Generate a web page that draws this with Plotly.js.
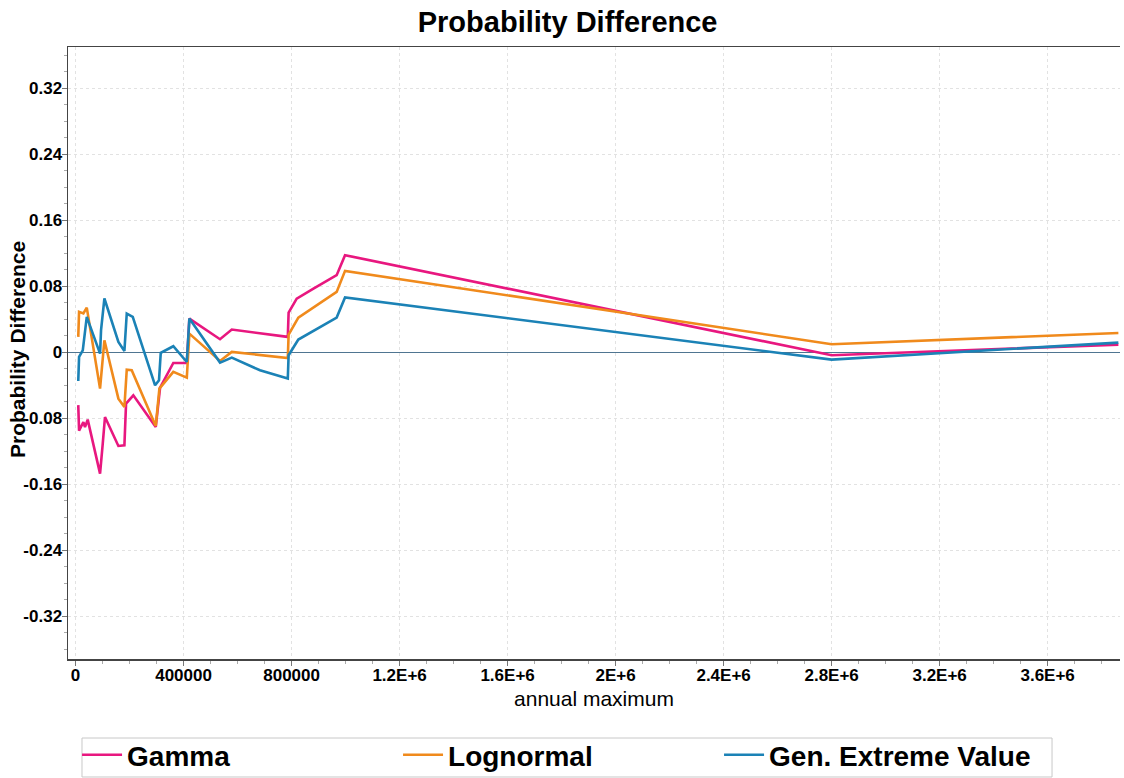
<!DOCTYPE html>
<html>
<head>
<meta charset="utf-8">
<script src="https://cdn.plot.ly/plotly-3.0.1.min.js"></script>
<style>
html,body{margin:0;padding:0;background:#fff;}
#chart{width:1124px;height:778px;}
</style>
</head>
<body>
<div id="chart"></div>
<script>
// ---- data ----
const seriesNames = ["Gamma", "Lognormal", "Gen. Extreme Value"];
const seriesColors = ["#e8177f", "#f08a1c", "#1b82b6"];

const gammaX = [10000, 13000, 29000, 35000, 45000, 90700, 100700, 109000, 158600, 180900, 187000, 214000, 297000, 313000, 362000, 412000, 421500, 535000, 578500, 786000, 789000, 819000, 881000, 967000, 998000, 2800000, 3862000];
const gammaY = [-0.064, -0.095, -0.0845, -0.0905, -0.0816, -0.147, -0.1107, -0.0784, -0.1135, -0.1127, -0.0622, -0.0521, -0.0905, -0.0428, -0.013, -0.013, 0.0408, 0.0158, 0.0275, 0.0186, 0.048, 0.065, 0.077, 0.0933, 0.1176, -0.0036, 0.0093];

const lognormalX = [10000, 13000, 29000, 41500, 90700, 106800, 158600, 180900, 189600, 208000, 297000, 310500, 362000, 412000, 421500, 535000, 578500, 786000, 789000, 825000, 967000, 998000, 2800000, 3862000];
const lognormalY = [0.0186, 0.049, 0.047, 0.0541, -0.044, 0.0145, -0.0562, -0.0663, -0.021, -0.0218, -0.0893, -0.044, -0.0238, -0.0307, 0.0226, -0.0105, 0.0004, -0.0069, 0.0214, 0.042, 0.0731, 0.0986, 0.0097, 0.0234];

const gevX = [10000, 13000, 26700, 41500, 90700, 94400, 106800, 158600, 180900, 189600, 211800, 294500, 309000, 315500, 362000, 412000, 421500, 535000, 578500, 683000, 786000, 789000, 825000, 967000, 998000, 2800000, 3862000];
const gevY = [-0.0348, -0.0057, 0.0024, 0.0428, -0.0016, 0.0267, 0.0651, 0.0125, 0.0016, 0.0469, 0.0428, -0.04, -0.034, -0.0008, 0.0073, -0.0118, 0.0408, -0.0125, -0.0065, -0.0218, -0.0319, -0.0036, 0.0154, 0.042, 0.0663, -0.0089, 0.0117];

const xTickVals = [0, 400000, 800000, 1200000, 1600000, 2000000, 2400000, 2800000, 3200000, 3600000];
const xTickText = ["0", "400000", "800000", "1.2E+6", "1.6E+6", "2E+6", "2.4E+6", "2.8E+6", "3.2E+6", "3.6E+6"];
const yTickVals = [-0.32, -0.24, -0.16, -0.08, 0, 0.08, 0.16, 0.24, 0.32];
const yTickText = ["-0.32", "-0.24", "-0.16", "-0.08", "0", "0.08", "0.16", "0.24", "0.32"];

const chartTitle = "Probability Difference";
const xTitle = "annual maximum";
const yTitle = "Probability Difference";

// ---- drawing ----
const FONT = "Liberation Sans, Arial, Helvetica, sans-serif";
const xs = [gammaX, lognormalX, gevX];
const ys = [gammaY, lognormalY, gevY];
const traces = seriesNames.map((n, i) => ({
  type: "scatter", mode: "lines", name: n,
  x: xs[i], y: ys[i],
  line: {color: seriesColors[i], width: 2.6}
}));

const layout = {
  width: 1124, height: 778,
  paper_bgcolor: "#ffffff", plot_bgcolor: "#ffffff",
  margin: {l: 68, r: 4, t: 47, b: 119, pad: 0, autoexpand: false},
  font: {family: FONT, color: "#000"},
  title: {
    text: chartTitle, font: {family: FONT, size: 29, weight: "bold", color: "#000"},
    xref: "container", x: 0.505, xanchor: "center",
    yref: "container", y: 0.972, yanchor: "middle"
  },
  xaxis: {
    range: [-28000, 3868000],
    tickmode: "array", tickvals: xTickVals, ticktext: xTickText,
    tickfont: {family: FONT, size: 17, weight: "bold", color: "#000"},
    ticks: "outside", ticklen: 5, tickcolor: "#777", tickwidth: 1,
    ticklabelstandoff: -5,
    minor: {tickmode: "linear", tick0: 0, dtick: 100000, ticks: "outside", ticklen: 3, tickcolor: "#aaa", showgrid: false},
    showline: true, linecolor: "#444", linewidth: 1.5, mirror: true,
    showgrid: true, gridcolor: "#e2e2e2", griddash: "3px,3px", gridwidth: 1,
    zeroline: false,
    title: {text: xTitle, font: {family: FONT, size: 21, color: "#000"}, standoff: 7}
  },
  yaxis: {
    range: [-0.3715, 0.3697],
    tickmode: "array", tickvals: yTickVals, ticktext: yTickText,
    tickfont: {family: FONT, size: 17, weight: "bold", color: "#000"},
    ticks: "outside", ticklen: 5, tickcolor: "#777", tickwidth: 1,
    ticklabelstandoff: -4,
    minor: {tickmode: "linear", tick0: 0, dtick: 0.02, ticks: "outside", ticklen: 3, tickcolor: "#aaa", showgrid: false},
    showline: true, linecolor: "#444", linewidth: 1.5,
    showgrid: true, gridcolor: "#e2e2e2", griddash: "3px,3px", gridwidth: 1,
    zeroline: true, zerolinecolor: "#4f7591", zerolinewidth: 1.2
  },
  annotations: [{
    text: yTitle, textangle: -90, showarrow: false,
    xref: "paper", x: -0.0475, xanchor: "center",
    yref: "paper", y: 0.505, yanchor: "middle",
    font: {family: FONT, size: 21, weight: "bold", color: "#000"}
  }],
  shapes: [{
    type: "rect", xref: "paper", yref: "paper",
    x0: 0.0133, x1: 0.9354, y0: -0.1928, y1: -0.1291,
    line: {color: "#c8c8c8", width: 1}, fillcolor: "rgba(0,0,0,0)", layer: "below"
  }],
  showlegend: true,
  legend: {
    orientation: "h", x: 0.0086, xanchor: "left", y: -0.116, yanchor: "top",
    borderwidth: 0, bgcolor: "rgba(0,0,0,0)",
    font: {family: FONT, size: 28, weight: "bold", color: "#000"},
    entrywidthmode: "pixels", entrywidth: 266,
    itemwidth: 40, tracegroupgap: 0
  }
};

Plotly.newPlot("chart", traces, layout, {displayModeBar: false, staticPlot: true});
</script>
</body>
</html>
